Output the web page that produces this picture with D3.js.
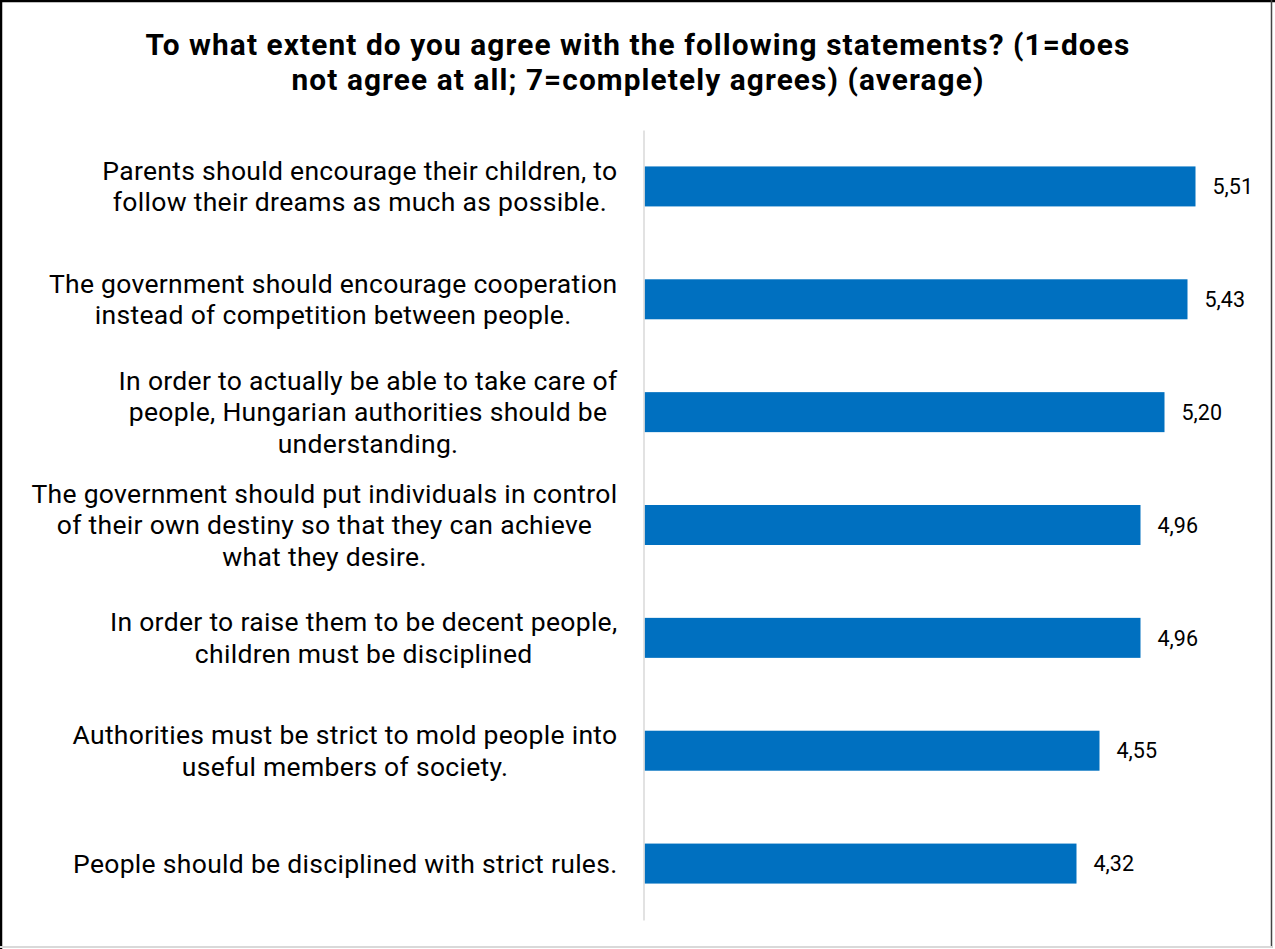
<!DOCTYPE html>
<html>
<head>
<meta charset="utf-8">
<script src="https://cdn.jsdelivr.net/npm/d3@7"></script>
<style>
  html, body { margin: 0; padding: 0; background: #fff; }
  svg { display: block; }
  text { font-family: Roboto, "Open Sans", sans-serif; fill: #000; }
</style>
</head>
<body>
<svg id="chart" width="1275" height="949"></svg>
<script>
// Survey statements (line breaks as shown on the axis) and their average scores
const titleLines = [
  "To what extent do you agree with the following statements? (1=does",
  "not agree at all; 7=completely agrees) (average)"
];
const categories = [
  "Parents should encourage their children, to\nfollow their dreams as much as possible.",
  "The government should encourage cooperation\ninstead of competition between people.",
  "In order to actually be able to take care of\npeople, Hungarian authorities should be\nunderstanding.",
  "The government should put individuals in control\nof their own destiny so that they can achieve\nwhat they desire.",
  "In order to raise them to be decent people,\nchildren must be disciplined",
  "Authorities must be strict to mold people into\nuseful members of society.",
  "People should be disciplined with strict rules."
];
const values = [5.51, 5.43, 5.20, 4.96, 4.96, 4.55, 4.32];

const W = 1275, H = 949;
const svg = d3.select("#chart");

// frame
svg.append("line").attr("x1", 0).attr("x2", W).attr("y1", 1).attr("y2", 1)
  .attr("stroke", "#000").attr("stroke-width", 2.5);
svg.append("line").attr("x1", 1).attr("x2", 1).attr("y1", 0).attr("y2", H)
  .attr("stroke", "#000").attr("stroke-width", 2.5);
svg.append("line").attr("x1", 1271.5).attr("x2", 1271.5).attr("y1", 0).attr("y2", 948)
  .attr("stroke", "#444").attr("stroke-width", 1.5);
svg.append("line").attr("x1", 0).attr("x2", 1272).attr("y1", 947).attr("y2", 947)
  .attr("stroke", "#d9d9d9").attr("stroke-width", 2);

// title
svg.append("text")
  .attr("x", 638).attr("y", 54.5)
  .attr("text-anchor", "middle")
  .style("font-weight", 700).style("font-size", "29.8px")
  .style("letter-spacing", "1.1px")
  .selectAll("tspan").data(titleLines).join("tspan")
  .attr("x", 638).attr("dy", (d, i) => i === 0 ? 0 : 35)
  .text(d => d);

// scales
const x = d3.scaleLinear().domain([0, 6]).range([644.5, 1244.5]);
const y = d3.scaleBand().domain(categories).range([130, 920])
  .paddingInner(0.6456).paddingOuter(0.3228);

// bars
svg.append("g").selectAll("rect").data(values).join("rect")
  .attr("x", x(0))
  .attr("y", (d, i) => y(categories[i]))
  .attr("width", d => x(d) - x(0))
  .attr("height", y.bandwidth())
  .attr("fill", "#0070C0");

// value labels
svg.append("g").selectAll("text").data(values).join("text")
  .attr("x", d => x(d) + 17)
  .attr("y", (d, i) => y(categories[i]) + y.bandwidth() / 2)
  .attr("dy", "0.36em")
  .style("font-size", "21.5px")
  .text(d => d3.format(".2f")(d).replace(".", ","));

// category axis
const axisX = 643.5;
const axis = svg.append("g")
  .attr("transform", `translate(${axisX},0)`)
  .call(d3.axisLeft(y).tickSize(0).tickPadding(0));
axis.select(".domain").attr("stroke", "#d9d9d9").attr("stroke-width", 1.5);

const labelSize = 26.5, lineGap = 31.5, labelGap = 26;
axis.selectAll(".tick text").each(function(d) {
  const t = d3.select(this);
  const lines = d.split("\n");
  t.text(null)
    .attr("text-anchor", "middle")
    .attr("fill", "#000")
    .style("font-family", 'Roboto, "Open Sans", sans-serif')
    .style("font-size", labelSize + "px")
    .style("letter-spacing", "0.3px")
    .attr("dy", null);
  const spans = t.selectAll("tspan").data(lines).join("tspan")
    .attr("dy", (l, i) => i === 0 ? ((-(lines.length - 1) / 2) * lineGap + 0.35 * labelSize) + "px" : lineGap + "px")
    .text(l => l);
  let maxW = 0;
  spans.each(function() { maxW = Math.max(maxW, this.getComputedTextLength()); });
  const cx = -(labelGap + maxW / 2);
  spans.attr("x", cx);
  t.attr("x", cx).attr("y", 0);
});
</script>
</body>
</html>
